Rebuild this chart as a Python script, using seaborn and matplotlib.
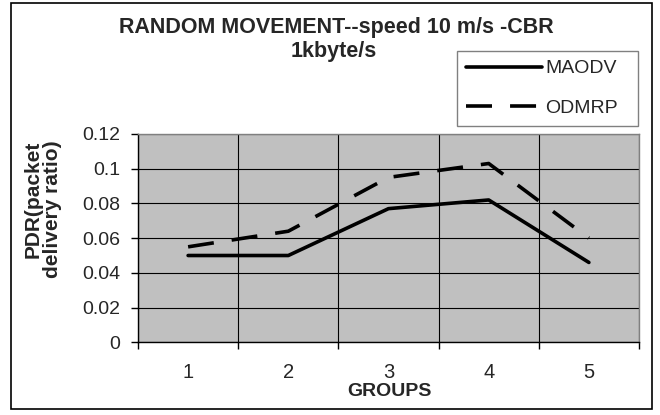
"""PDR vs groups, random movement, speed 10 m/s, CBR 1 kbyte/s."""

import matplotlib

matplotlib.use("Agg")
import matplotlib.pyplot as plt
import pandas as pd
import seaborn as sns
from matplotlib.patches import Rectangle
from matplotlib.ticker import FixedLocator, FuncFormatter

# data
groups = [1, 2, 3, 4, 5]
maodv = [0.050, 0.050, 0.077, 0.082, 0.046]
odmrp = [0.055, 0.064, 0.095, 0.103, 0.060]
series_names = ["MAODV", "ODMRP"]
y_ticks = [0, 0.02, 0.04, 0.06, 0.08, 0.1, 0.12]

df = pd.DataFrame(
    {
        "group": groups * 2,
        "pdr": maodv + odmrp,
        "protocol": [series_names[0]] * len(groups) + [series_names[1]] * len(groups),
    }
)

sns.set_style("white")
plt.rcParams["font.family"] = ["Liberation Sans", "DejaVu Sans"]

W, H = 660, 415
LW = 2.6
fig = plt.figure(figsize=(W / 100, H / 100), dpi=100)
ax = fig.add_axes([138 / W, 1 - 342.3 / H, 501 / W, 208.3 / H])
ax.set_facecolor("#c0c0c0")

sns.lineplot(
    data=df,
    x="group",
    y="pdr",
    hue="protocol",
    style="protocol",
    palette={"MAODV": "black", "ODMRP": "black"},
    dashes={"MAODV": "", "ODMRP": (7.2, 5)},
    linewidth=LW,
    errorbar=None,
    ax=ax,
)

# axes / grid in the old Excel look
ax.set_xlim(groups[0] - 0.5, groups[-1] + 0.5)
ax.set_ylim(y_ticks[0], y_ticks[-1])
ax.set_xticks(groups)
ax.set_xticklabels([str(g) for g in groups])
ax.xaxis.set_minor_locator(FixedLocator([g - 0.5 for g in groups] + [groups[-1] + 0.5]))
ax.set_yticks(y_ticks)
ax.yaxis.set_major_formatter(FuncFormatter(lambda v, _: f"{v:g}"))

ax.tick_params(axis="x", which="major", bottom=True, length=0, pad=15, labelsize=14.5)
ax.tick_params(axis="x", which="minor", bottom=True, length=5, width=1, color="black")
ax.tick_params(axis="y", which="major", left=True, length=5, width=1, color="black",
               pad=8, labelsize=14)
ax.grid(which="minor", axis="x", color="black", lw=0.8)
ax.grid(which="major", axis="y", color="black", lw=0.8)
ax.set_axisbelow(True)

for side in ["top", "right"]:
    ax.spines[side].set_color("#808080")
    ax.spines[side].set_linewidth(1)
for side in ["left", "bottom"]:
    ax.spines[side].set_color("black")
    ax.spines[side].set_linewidth(1)

ax.set_xlabel("GROUPS", fontsize=14, fontweight="bold")
ax.xaxis.set_label_coords(0.502, -0.234)
ax.xaxis.label.set_va("center")
ax.set_ylabel("PDR(packet\ndelivery ratio)", fontsize=15, fontweight="bold",
              multialignment="right", linespacing=1.0)
ax.yaxis.set_label_coords(-0.1906, 0.6375)
ax.yaxis.label.set_va("center")

# title, two lines placed separately
fig.text(336 / W, 1 - 33.3 / H, "RANDOM MOVEMENT--speed 10 m/s -CBR",
         ha="center", va="baseline", fontsize=15.5, fontweight="bold")
fig.text(334 / W, 1 - 57.5 / H, "1kbyte/s",
         ha="center", va="baseline", fontsize=15.5, fontweight="bold")

handles, labels = ax.get_legend_handles_labels()
ax.get_legend().remove()
leg = fig.legend(
    handles,
    labels,
    loc="upper left",
    bbox_to_anchor=(457 / W, 1 - 127 / H, (638 - 457) / W, 76 / H),
    mode="expand",
    fontsize=14,
    frameon=True,
    fancybox=False,
    edgecolor="#808080",
    facecolor="white",
    framealpha=1,
    handlelength=3.9,
    handletextpad=0.2,
    labelspacing=1.12,
    borderpad=0.45,
    borderaxespad=0,
)
leg.get_frame().set_linewidth(1)
for h in leg.get_lines():
    h.set_linewidth(LW)

# outer chart border
fig.add_artist(Rectangle((11 / W, 1 - 409 / H), 641 / W, 406 / H,
                         transform=fig.transFigure, fill=False, ec="black", lw=1.2))

fig.savefig("out.png", dpi=100)
plt.close(fig)
